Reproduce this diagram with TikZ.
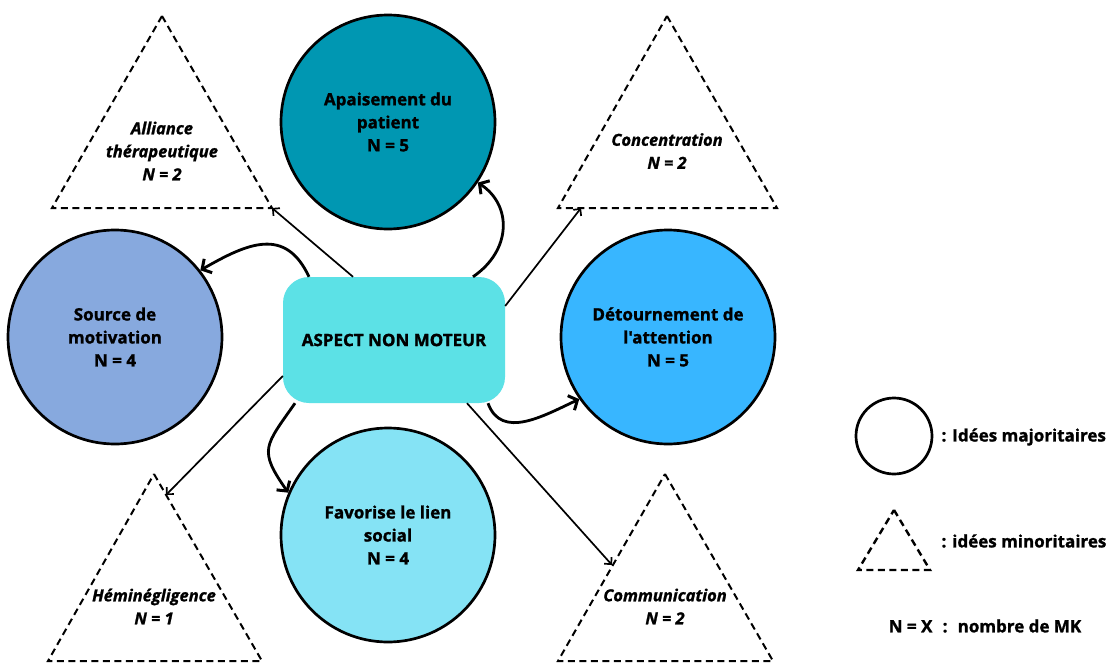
\documentclass[tikz,border=0pt]{standalone}
\usepackage{fontspec}
\setmainfont{Open Sans}[Ligatures=TeXOff, BoldFeatures={FakeBold=1.3}, BoldItalicFeatures={FakeBold=1.3}]
\usetikzlibrary{arrows.meta}
\definecolor{apaC}{HTML}{0097B2}
\definecolor{srcC}{HTML}{87A9DE}
\definecolor{detC}{HTML}{38B6FF}
\definecolor{favC}{HTML}{85E3F5}
\definecolor{cenC}{HTML}{5CE1E6}
\begin{document}
\begin{tikzpicture}[x=1pt,y=-1pt,
 txt/.style={font=\fontsize{17}{23}\selectfont\bfseries, align=center},
 itxt/.style={font=\fontsize{16.5}{23}\selectfont\bfseries\itshape, align=center},
 major/.style={circle, draw=black, line width=2.7pt, minimum size=214pt, inner sep=0pt, txt},
 minor/.style={draw=black, line width=2pt, dash pattern=on 7pt off 4.5pt},
 curvy/.style={line width=2.8pt, -{Straight Barb[length=7pt,width=16pt,line width=3pt]}},
 thinarr/.style={line width=1.7pt, -{Straight Barb[length=5pt,width=10pt]}}]
\useasboundingbox (0,0) rectangle (1120,662);
\fill[white] (0,0) rectangle (1120,662);

% major ideas
\node[major, fill=apaC] (apa) at (388,122) {Apaisement du\\patient\\N = 5};
\node[major, fill=srcC] (src) at (115,337) {Source de\\motivation\\N = 4};
\node[major, fill=detC] (det) at (668,337) {Détournement de\\l'attention\\N = 5};
\node[major, fill=favC] (fav) at (388,535) {Favorise le lien\\social\\N = 4};

% centre
\node[fill=cenC, rounded corners=26pt, minimum width=222pt, minimum height=126pt, txt] (cen) at (394,340) {ASPECT NON MOTEUR};

% minor ideas (triangles)
\coordinate (allR) at (272,208);
\draw[minor] (162,16) -- (allR) -- (52,208) -- cycle;
\node[itxt] (all) at (162,151) {Alliance\\thérapeutique\\N = 2};

\coordinate (conP) at (581,208);
\draw[minor] (667,16) -- (777,208) -- (558,208) -- cycle;
\node[itxt] (con) at (667,151) {Concentration\\N = 2};

\coordinate (hemP) at (166,495);
\draw[minor] (154,474) -- (262,661) -- (48,661) -- cycle;
\node[itxt] (hem) at (154,606.5) {Héminégligence\\N = 1};

\coordinate (comP) at (612,565);
\draw[minor] (665,474) -- (773,661) -- (558,661) -- cycle;
\node[itxt] (com) at (665,606.5) {Communication\\N = 2};

% straight arrows
\draw[thinarr] ([xshift=-41pt]cen.north) -- (allR);
\draw[thinarr] ([yshift=34pt]cen.east) -- (conP);
\draw[thinarr] ([yshift=-36pt]cen.west) -- (hemP);
\draw[thinarr] ([xshift=73pt]cen.south) -- (comP);

% curved arrows
\draw[curvy] ([xshift=-85pt]cen.north) to[out=115,in=30,looseness=1.3] (src.38);
\draw[curvy] ([xshift=79pt]cen.north) .. controls (512,250) and (512,205) .. (apa.-34);
\draw[curvy] ([xshift=94pt]cen.south) to[out=-70,in=205,looseness=1.1] (det.215);
\draw[curvy] ([xshift=-99pt]cen.south) to[out=-125,in=125,looseness=1.5] (fav.157);

% legend
\node[circle, draw=black, line width=2.7pt, minimum size=76pt, inner sep=0pt] (lgC) at (894,436) {};
\node[txt, anchor=west] (lgCt) at (938,437) {: Idées majoritaires};
\draw[minor, line width=2.4pt] (894,510) -- (930,570) -- (858,570) -- cycle;
\node[txt, anchor=west] (lgTt) at (938,541) {: idées minoritaires};
\node[txt] (lgN) at (985,626) {N = X\hspace{0.6em}:\hspace{0.6em}nombre de MK};
\end{tikzpicture}
\end{document}
